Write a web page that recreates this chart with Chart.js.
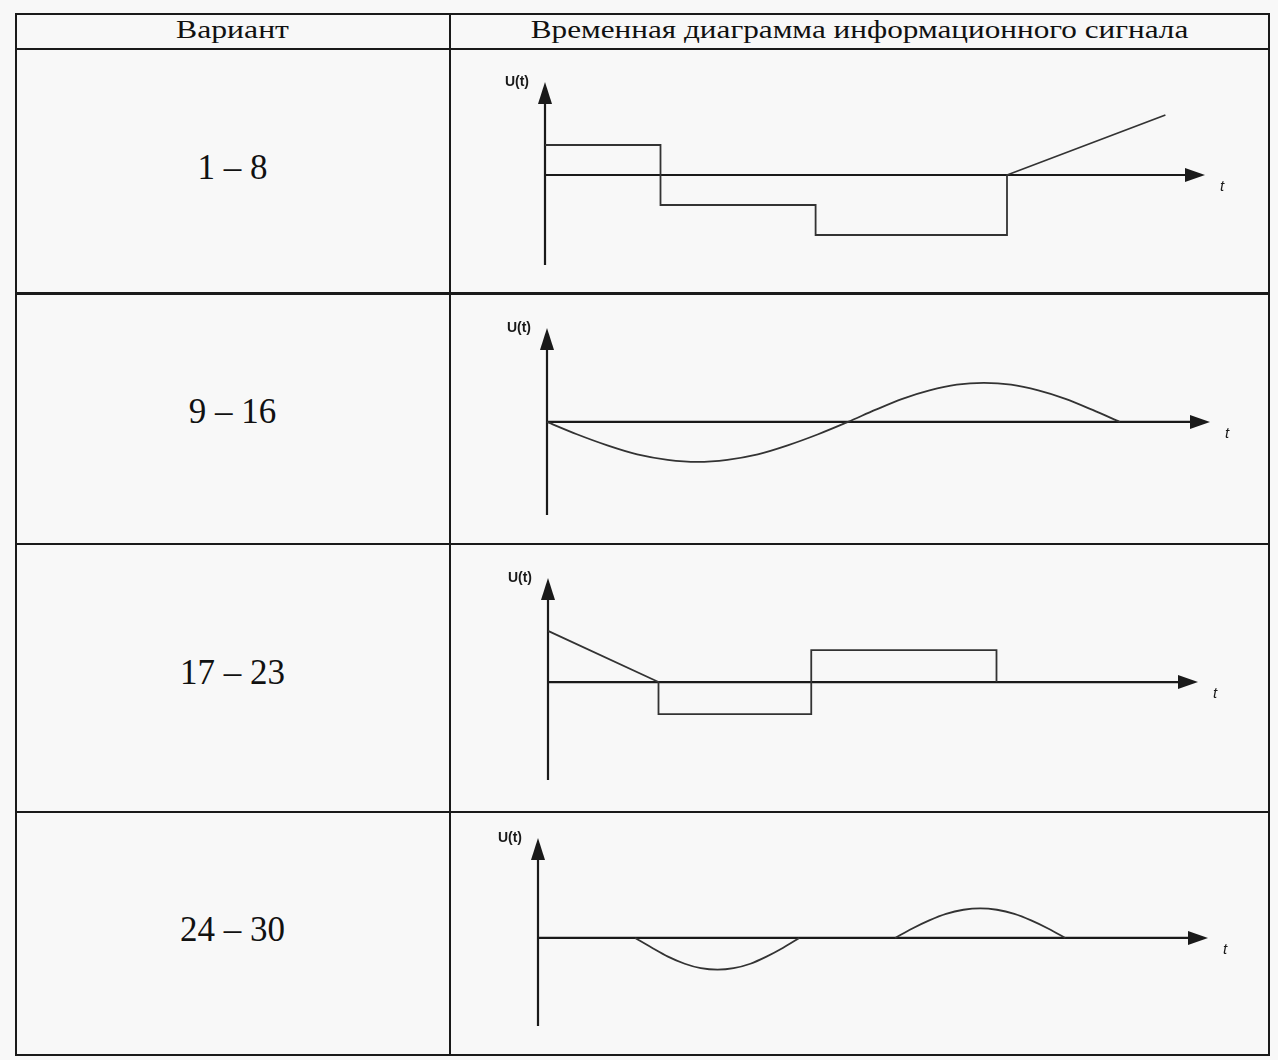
<!DOCTYPE html>
<html lang="ru">
<head>
<meta charset="utf-8">
<script src="https://cdn.jsdelivr.net/npm/chart.js@4"></script>
<style>
  body { margin: 0; background: #f8f8f8; width: 1278px; height: 1060px; position: relative; overflow: hidden; }
  .hl, .vl { position: absolute; background: #1a1a1a; }
  .txt { position: absolute; font-family: "Liberation Serif", "DejaVu Serif", serif; color: #111; white-space: nowrap; transform-origin: center; }
  canvas { position: absolute; }
</style>
</head>
<body>
<div class="hl" style="left:15px; top:13px; width:1255px; height:2px"></div>
<div class="hl" style="left:15px; top:48px; width:1255px; height:2px"></div>
<div class="hl" style="left:15px; top:292px; width:1255px; height:3px"></div>
<div class="hl" style="left:15px; top:543px; width:1255px; height:2px"></div>
<div class="hl" style="left:15px; top:811px; width:1255px; height:2px"></div>
<div class="hl" style="left:15px; top:1054px; width:1255px; height:2px"></div>
<div class="vl" style="left:15px; top:13px; width:2px; height:1043px"></div>
<div class="vl" style="left:449px; top:13px; width:2px; height:1043px"></div>
<div class="vl" style="left:1268px; top:13px; width:2px; height:1043px"></div>

<div class="txt" style="left:15px; width:435px; top:13px; text-align:center; font-size:26px; line-height:34px; transform:scaleX(1.22)">Вариант</div>
<div class="txt" style="left:451px; width:817px; top:13px; text-align:center; font-size:26px; line-height:34px; transform:scaleX(1.2)">Временная диаграмма информационного сигнала</div>

<div id="rows"></div>

<canvas id="c1" width="816" height="242" style="left:451px; top:50px"></canvas>
<canvas id="c2" width="816" height="247" style="left:451px; top:295px"></canvas>
<canvas id="c3" width="816" height="265" style="left:451px; top:545px"></canvas>
<canvas id="c4" width="816" height="240" style="left:451px; top:813px"></canvas>

<script>
// row labels
const variants = ['1 – 8', '9 – 16', '17 – 23', '24 – 30'];
const variantY = [168, 412, 673, 930];

// signal 1: steps then ramp
const t1 = [0, 1.75, 1.75, 4.1, 4.1, 7.0, 7.0, 9.4];
const u1 = [1, 1, -1, -1, -2, -2, 0, 2];

// signal 2: one full (uneven) wave
const t2 = [0, 0.45, 0.91, 1.36, 1.82, 2.27, 2.72, 3.18, 3.63, 4.09, 4.54,
            4.95, 5.36, 5.77, 6.18, 6.59, 7.0, 7.41, 7.82, 8.23, 8.64];
const u2 = [0, -0.41, -0.78, -1.08, -1.26, -1.33, -1.26, -1.08, -0.78, -0.41, 0,
            0.40, 0.77, 1.05, 1.24, 1.3, 1.24, 1.05, 0.77, 0.40, 0];

// signal 3: ramp down then pulses
const t3 = [0, 1.7, 1.7, 4.05, 4.05, 6.9, 6.9];
const u3 = [1.6, 0, -1, -1, 1, 1, 0];

// signal 4: two half-waves with a pause
const t4a = [1.45, 1.70, 1.94, 2.19, 2.43, 2.68, 2.92, 3.17, 3.41, 3.66, 3.9];
const u4a = [0, -0.33, -0.63, -0.87, -1.02, -1.07, -1.02, -0.87, -0.63, -0.33, 0];
const t4b = [5.33, 5.58, 5.84, 6.09, 6.35, 6.6, 6.85, 7.11, 7.36, 7.62, 7.87];
const u4b = [0, 0.31, 0.59, 0.81, 0.95, 1.0, 0.95, 0.81, 0.59, 0.31, 0];

const rows = document.getElementById('rows');
variants.forEach((v, i) => {
  const d = document.createElement('div');
  d.className = 'txt';
  d.style.cssText = `left:15px; width:435px; top:${variantY[i] - 22}px; text-align:center; font-size:35px; line-height:44px;`;
  d.textContent = v;
  rows.appendChild(d);
});

const axesArrows = {
  id: 'axesArrows',
  beforeDatasetsDraw(chart) {
    const { ctx, chartArea: a, scales: { x, y } } = chart;
    const x0 = x.getPixelForValue(0);
    const y0 = y.getPixelForValue(0);
    ctx.save();
    ctx.strokeStyle = '#1a1a1a';
    ctx.fillStyle = '#1a1a1a';
    ctx.lineWidth = 2.2;
    ctx.beginPath();
    ctx.moveTo(x0, a.bottom);
    ctx.lineTo(x0, a.top + 16);
    ctx.moveTo(x0, y0);
    ctx.lineTo(a.right - 14, y0);
    ctx.stroke();
    ctx.beginPath();
    ctx.moveTo(x0, a.top);
    ctx.lineTo(x0 - 7, a.top + 22);
    ctx.lineTo(x0 + 7, a.top + 22);
    ctx.closePath();
    ctx.fill();
    ctx.beginPath();
    ctx.moveTo(a.right, y0);
    ctx.lineTo(a.right - 20, y0 - 7);
    ctx.lineTo(a.right - 20, y0 + 7);
    ctx.closePath();
    ctx.fill();
    ctx.font = 'bold 14px "Liberation Sans", Arial, sans-serif';
    ctx.textAlign = 'right';
    ctx.textBaseline = 'middle';
    ctx.fillText('U(t)', x0 - 16, a.top);
    ctx.textAlign = 'left';
    ctx.font = 'italic 15px "Liberation Sans", Arial, sans-serif';
    ctx.fillText('t', a.right + 15, y0 + 12);
    ctx.restore();
  }
};

function makeChart(id, series, pad, yMin, yMax, smooth) {
  const ctx = document.getElementById(id).getContext('2d');
  return new Chart(ctx, {
    type: 'line',
    data: {
      datasets: series.map(([ts, us]) => ({
        data: ts.map((t, i) => ({ x: t, y: us[i] })),
        borderColor: '#333',
        borderWidth: 1.8,
        pointRadius: 0,
        tension: smooth ? 0.3 : 0,
        fill: false,
        clip: false,
      })),
    },
    options: {
      responsive: false,
      animation: false,
      devicePixelRatio: 1,
      layout: { padding: pad },
      plugins: { legend: { display: false }, tooltip: { enabled: false } },
      scales: {
        x: { type: 'linear', min: 0, max: 10, display: false },
        y: { type: 'linear', min: yMin, max: yMax, display: false },
      },
    },
    plugins: [axesArrows],
  });
}

makeChart('c1', [[t1, u1]], { left: 94, right: 62, top: 32, bottom: 27 }, -3.0, 3.1, false);
makeChart('c2', [[t2, u2]], { left: 96, right: 57, top: 33, bottom: 27 }, -3.1, 3.13, true);
makeChart('c3', [[t3, u3]], { left: 97, right: 69, top: 33, bottom: 30 }, -3.06, 3.25, false);
makeChart('c4', [[t4a, u4a], [t4b, u4b]], { left: 87, right: 59, top: 25, bottom: 27 }, -2.97, 3.37, true);
</script>
</body>
</html>
